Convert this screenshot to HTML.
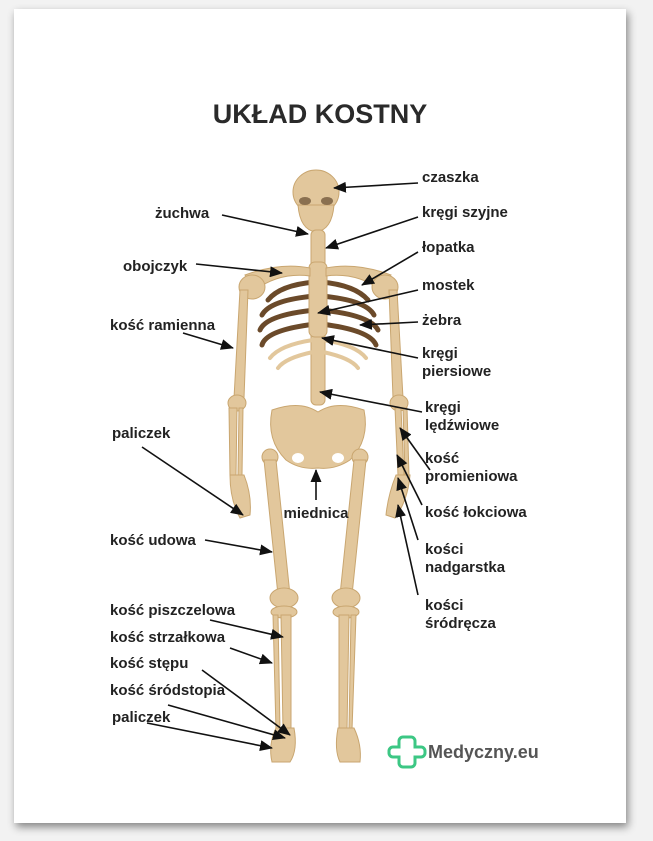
<!DOCTYPE html>
<html><head><meta charset="utf-8"><style>
html,body{margin:0;padding:0;background:#f2f2f2;}
body{width:653px;height:841px;position:relative;overflow:hidden;}
.page{position:absolute;left:14px;top:9px;width:612px;height:814px;background:#fff;box-shadow:2px 4px 8px rgba(0,0,0,0.45);}
svg{position:absolute;left:0;top:0;}
text{font-family:"Liberation Sans",sans-serif;font-weight:bold;font-size:15px;fill:#222;}
</style></head><body>
<div class="page"></div>
<svg width="653" height="841" viewBox="0 0 653 841">
<defs>
<marker id="a" markerWidth="13" markerHeight="11" refX="12" refY="5.5" orient="auto" markerUnits="userSpaceOnUse"><path d="M0,0 L13,5.5 L0,11 Z" fill="#111"/></marker>
</defs>
<text x="320" y="123" text-anchor="middle" style="font-size:27px;fill:#2a2a2a">UKŁAD KOSTNY</text>
<g fill="#e2c79c" stroke="#c9a670" stroke-width="1" stroke-linecap="round">
<ellipse cx="316" cy="192" rx="23" ry="22"/>
<path d="M298,205 Q300,230 316,232 Q332,230 334,205 Z"/>
<ellipse cx="305" cy="201" rx="6" ry="4" fill="#8a7050" stroke="none"/>
<ellipse cx="327" cy="201" rx="6" ry="4" fill="#8a7050" stroke="none"/>
<rect x="311" y="230" width="14" height="175" rx="5"/>
<g fill="none" stroke="#6b4a2a" stroke-width="5">
<path d="M315,282 Q280,285 268,300"/><path d="M321,282 Q355,285 368,300"/>
<path d="M315,296 Q270,300 262,315"/><path d="M321,296 Q366,300 374,315"/>
<path d="M315,310 Q266,315 260,330"/><path d="M321,310 Q370,315 378,330"/>
<path d="M315,324 Q266,330 262,345"/><path d="M321,324 Q370,330 376,345"/>
</g>
<g fill="none" stroke="#e2c79c" stroke-width="4">
<path d="M313,340 Q280,345 270,358"/><path d="M323,340 Q356,345 366,358"/>
<path d="M313,352 Q285,358 278,368"/><path d="M323,352 Q351,358 358,368"/>
</g>
<rect x="309" y="262" width="18" height="75" rx="6"/>
<path d="M245,275 Q280,262 310,268 L310,276 Q280,272 255,290 Z"/>
<path d="M391,275 Q356,262 326,268 L326,276 Q356,272 381,290 Z"/>
<ellipse cx="252" cy="287" rx="13" ry="12"/><ellipse cx="385" cy="287" rx="13" ry="12"/>
<path d="M240,290 L248,290 L244,398 L234,398 Z"/>
<path d="M389,290 L397,290 L403,398 L393,398 Z"/>
<ellipse cx="237" cy="403" rx="9" ry="8"/><ellipse cx="399" cy="403" rx="9" ry="8"/>
<path d="M229,408 L237,408 L236,475 L230,475 Z"/><path d="M239,408 L243,408 L242,475 L238,475 Z"/>
<path d="M395,408 L401,408 L404,475 L398,475 Z"/><path d="M403,408 L407,408 L409,475 L405,475 Z"/>
<path d="M230,475 L244,475 Q252,495 250,515 L240,518 Q230,500 230,475 Z"/>
<path d="M396,475 L410,475 Q408,500 395,518 L386,515 Q388,495 396,475 Z"/>
<path d="M272,410 Q300,400 318,412 Q336,400 364,410 Q370,440 350,460 Q335,470 318,468 Q300,470 286,460 Q266,440 272,410 Z"/>
<ellipse cx="298" cy="458" rx="6" ry="5" fill="#fff" stroke="none"/><ellipse cx="338" cy="458" rx="6" ry="5" fill="#fff" stroke="none"/>
<circle cx="270" cy="457" r="8"/><circle cx="360" cy="457" r="8"/>
<path d="M264,460 L276,460 L290,595 L278,595 Z"/>
<path d="M354,460 L366,460 L352,595 L340,595 Z"/>
<ellipse cx="284" cy="598" rx="14" ry="10"/><ellipse cx="346" cy="598" rx="14" ry="10"/>
<ellipse cx="284" cy="612" rx="13" ry="6"/><ellipse cx="346" cy="612" rx="13" ry="6"/>
<path d="M281,615 L291,615 L291,730 L283,730 Z"/><path d="M273,615 L278,615 L280,730 L276,730 Z"/>
<path d="M339,615 L349,615 L347,730 L339,730 Z"/><path d="M351,615 L356,615 L352,730 L349,730 Z"/>
<path d="M276,728 L294,728 Q298,750 290,762 L272,762 Q268,745 276,728 Z"/>
<path d="M338,728 L354,728 Q362,745 360,762 L340,762 Q334,750 338,728 Z"/>
</g>
<g stroke="#111" stroke-width="1.6" fill="none" marker-end="url(#a)">
<line x1="418" y1="183" x2="334" y2="188"/>
<line x1="222" y1="215" x2="308" y2="234"/>
<line x1="418" y1="217" x2="326" y2="248"/>
<line x1="196" y1="264" x2="282" y2="273"/>
<line x1="418" y1="252" x2="362" y2="285"/>
<line x1="418" y1="290" x2="318" y2="313"/>
<line x1="418" y1="322" x2="360" y2="325"/>
<line x1="418" y1="358" x2="322" y2="338"/>
<line x1="183" y1="333" x2="233" y2="348"/>
<line x1="422" y1="412" x2="320" y2="392"/>
<line x1="142" y1="447" x2="243" y2="515"/>
<line x1="430" y1="470" x2="400" y2="428"/>
<line x1="316" y1="500" x2="316" y2="470"/>
<line x1="422" y1="505" x2="397" y2="455"/>
<line x1="418" y1="540" x2="398" y2="478"/>
<line x1="418" y1="595" x2="398" y2="505"/>
<line x1="205" y1="540" x2="272" y2="552"/>
<line x1="210" y1="620" x2="283" y2="637"/>
<line x1="230" y1="648" x2="272" y2="663"/>
<line x1="202" y1="670" x2="290" y2="735"/>
<line x1="168" y1="705" x2="285" y2="738"/>
<line x1="147" y1="723" x2="272" y2="748"/>
</g>
<text x="422" y="182">czaszka</text>
<text x="422" y="217">kręgi szyjne</text>
<text x="422" y="252">łopatka</text>
<text x="422" y="290">mostek</text>
<text x="422" y="325">żebra</text>
<text x="422" y="358">kręgi</text><text x="422" y="376">piersiowe</text>
<text x="425" y="412">kręgi</text><text x="425" y="430">lędźwiowe</text>
<text x="425" y="463">kość</text><text x="425" y="481">promieniowa</text>
<text x="425" y="517">kość łokciowa</text>
<text x="425" y="554">kości</text><text x="425" y="572">nadgarstka</text>
<text x="425" y="610">kości</text><text x="425" y="628">śródręcza</text>
<text x="316" y="518" text-anchor="middle">miednica</text>
<text x="155" y="218">żuchwa</text>
<text x="123" y="271">obojczyk</text>
<text x="110" y="330">kość ramienna</text>
<text x="112" y="438">paliczek</text>
<text x="110" y="545">kość udowa</text>
<text x="110" y="615">kość piszczelowa</text>
<text x="110" y="642">kość strzałkowa</text>
<text x="110" y="668">kość stępu</text>
<text x="110" y="695">kość śródstopia</text>
<text x="112" y="722">paliczek</text>
<path d="M403,737 h8 a4,4 0 0 1 4,4 v6 h6 a4,4 0 0 1 4,4 v2 a4,4 0 0 1 -4,4 h-6 v6 a4,4 0 0 1 -4,4 h-8 a4,4 0 0 1 -4,-4 v-6 h-6 a4,4 0 0 1 -4,-4 v-2 a4,4 0 0 1 4,-4 h6 v-6 a4,4 0 0 1 4,-4 Z" fill="none" stroke="#3cc784" stroke-width="3"/>
<text x="428" y="758" style="font-size:18px;fill:#555">Medyczny.eu</text>
</svg>
</body></html>
